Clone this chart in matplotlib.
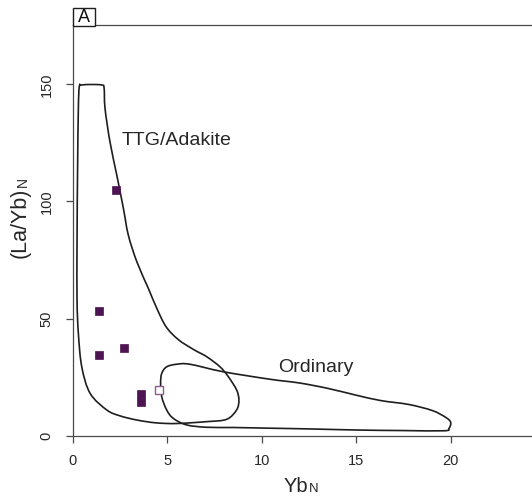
import numpy as np
import matplotlib.pyplot as plt
from matplotlib.patches import Rectangle, PathPatch
from matplotlib.path import Path

plt.rcParams['font.family'] = ['Liberation Sans', 'DejaVu Sans']

# samples: chondrite-normalised Yb vs La/Yb
yb_filled = [2.3, 1.38, 2.72, 1.38, 3.62, 3.62]
layb_filled = [105.0, 53.1, 37.6, 34.5, 17.9, 14.5]
yb_open = [4.55]
layb_open = [19.6]

# TTG/Adakite field boundary
ttg_x = [0.31, 0.36, 0.49, 1.00, 1.54, 1.67, 1.72, 1.98, 2.34, 2.69, 2.95, 3.40,
         4.01, 4.45, 4.95, 5.60, 6.40, 7.10, 7.80, 8.24, 8.68, 8.80, 8.68, 8.15, 7.10,
         5.50, 4.40, 3.40, 2.50, 1.81, 0.93, 0.49, 0.31, 0.24, 0.24, 0.27]
ttg_y = [139.7, 149.0, 149.7, 149.9, 149.7, 148.5, 139.7, 125.5, 111.3, 97.1, 85.7, 74.3,
         62.9, 54.5, 46.5, 41.0, 36.8, 33.7, 29.4, 25.2, 19.5, 15.2, 11.0, 7.0, 6.0,
         5.2, 5.5, 6.7, 8.5, 11.0, 18.1, 29.4, 43.7, 57.9, 82.8, 115.0]

# ordinary arc rocks field boundary
ord_x = [4.66, 4.72, 4.98, 5.51, 6.21, 7.97, 10.44, 12.0, 13.5, 15.0, 16.3, 17.8,
         19.04, 19.74, 20.0, 19.91, 19.65, 17.5, 15.2, 12.5, 10.44, 8.5, 7.10, 6.04,
         5.33, 4.98, 4.72]
ord_y = [22.4, 26.6, 29.4, 30.5, 30.5, 27.3, 24.1, 22.5, 20.2, 17.3, 15.0, 13.3,
         10.7, 7.8, 5.7, 3.1, 2.1, 2.2, 2.4, 2.9, 3.2, 3.5, 3.6, 4.6,
         7.4, 11.0, 16.6]

xticks = [0, 5, 10, 15, 20]
yticks = [0, 50, 100, 150]


def closed_curve(xs, ys):
    # smooth closed outline through the boundary vertices (Catmull-Rom as cubic Beziers)
    p = np.column_stack([xs, ys])
    n = len(p)
    verts = [p[0]]
    codes = [Path.MOVETO]
    for i in range(n):
        p0, p1, p2, p3 = p[i - 1], p[i], p[(i + 1) % n], p[(i + 2) % n]
        verts += [p1 + (p2 - p0) / 6, p2 - (p3 - p1) / 6, p2]
        codes += [Path.CURVE4] * 3
    return Path(verts, codes)


W, H = 532, 498
fig = plt.figure(figsize=(W / 100, H / 100), dpi=100)
ax = fig.add_axes([72.5 / W, 1 - 435.7 / H, (W - 72.5) / W, (435.7 - 25) / H])

line_c = '#1e1e1e'
text_c = '#262626'
spine_c = '#4a4a4a'

ax.add_patch(PathPatch(closed_curve(ttg_x, ttg_y), fill=False, ec=line_c, lw=1.2))
ax.add_patch(PathPatch(closed_curve(ord_x, ord_y), fill=False, ec=line_c, lw=1.2))

ax.plot(yb_filled, layb_filled, 's', ms=5.2, color='#4d1452', mec='#4d1452', mew=0.5)
ax.plot(yb_open, layb_open, 's', ms=5.2, mfc='white', mec='#8c5a90', mew=1.0)

ax.text(2.62, 125.8, 'TTG/Adakite', fontsize=14, color=text_c, va='center', ha='left')
ax.text(10.9, 29.0, 'Ordinary', fontsize=14, color=text_c, va='center', ha='left')

ax.set_xlim(0, 24.3)
ax.set_ylim(0, 175.3)
ax.set_xticks(xticks)
ax.set_yticks(yticks)
ax.tick_params(axis='both', direction='out', length=5, width=0.9, color=spine_c,
               labelsize=10.5, labelcolor=text_c, pad=8.5)
for lab in ax.get_yticklabels():
    lab.set_rotation(90)
    lab.set_va('center')

for side in ['left', 'bottom', 'top']:
    ax.spines[side].set_color(spine_c)
    ax.spines[side].set_linewidth(0.9)
ax.spines['right'].set_visible(False)

# axis labels with small N (normalised) after the main text
xl = fig.text(284 / W, 1 - 491.7 / H, 'Yb', fontsize=14.5, color=text_c,
              ha='left', va='baseline')
ax.annotate('N', xy=(1, 0), xycoords=xl, xytext=(0.3, 3.0), textcoords='offset points',
            fontsize=9.5, color=text_c, ha='left', va='baseline', annotation_clip=False)

yl = fig.text(26 / W, 1 - 258 / H, '(La/Yb)', fontsize=15.5, color=text_c,
              rotation=90, rotation_mode='anchor', ha='left', va='baseline')
ax.annotate('N', xy=(1, 1), xycoords=yl, xytext=(-3.2, 0.3), textcoords='offset points',
            fontsize=10, color=text_c, rotation=90, rotation_mode='anchor',
            ha='left', va='baseline', annotation_clip=False)

# panel letter box on the top-left corner
fig.patches.append(Rectangle((73.3 / W, 1 - 26 / H), 21.7 / W, 17.7 / H,
                             transform=fig.transFigure, fill=True, fc='white',
                             ec='#1e1e1e', lw=1.0, figure=fig))
fig.text(84.2 / W, 1 - 17.2 / H, 'A', fontsize=13, color='#111111',
         ha='center', va='center')

fig.savefig('out.png', dpi=100)
